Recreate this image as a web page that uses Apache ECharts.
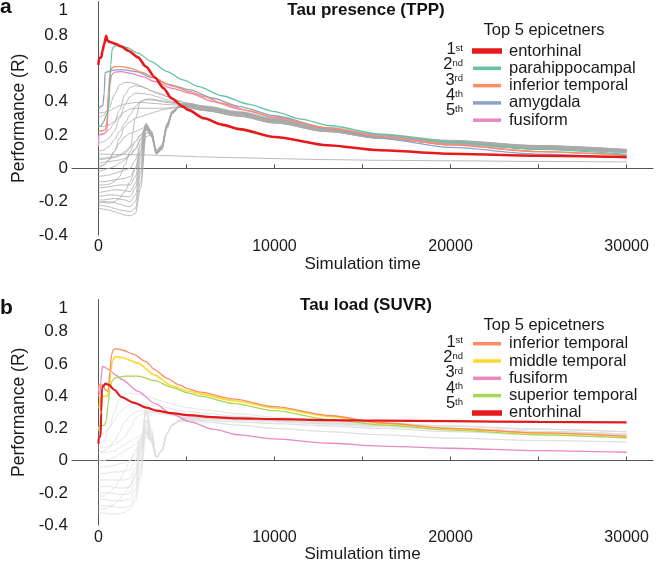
<!DOCTYPE html>
<html>
<head>
<meta charset="utf-8">
<script src="https://cdn.jsdelivr.net/npm/echarts@6/dist/echarts.min.js"></script>
<style>html,body{margin:0;padding:0;background:#fff;}#c{width:656px;height:564px;}</style>
</head>
<body>
<div id="c"></div>
<script>
// ---------- shared ----------
const xTickLabels = [0, 10000, 20000, 30000];
const xTicks = [0, 5000, 10000, 15000, 20000, 25000, 30000];
const yTicks = [-0.4, -0.2, 0, 0.2, 0.4, 0.6, 0.8, 1];
const TG = [0,300,600,900,1200,1500,1800,2100,2400,2700,3000,3300,3600,3900,4200,4600,5000,6000,8000,10000,13000,16000,20000,25000,30000];

// ---------- panel a : Tau presence (TPP) ----------
const namesA = ['entorhinal', 'parahippocampal', 'inferior temporal', 'amygdala', 'fusiform'];
const entorhinalA = [[0,0.62],[30,0.66],[170,0.665],[220,0.70],[320,0.74],[440,0.795],[520,0.765],[650,0.757],[1000,0.745],[1300,0.73],[1700,0.705],[2250,0.665],[2700,0.61],[3200,0.546],[3700,0.48],[4150,0.42],[4800,0.37],[5100,0.35],[6000,0.30],[7000,0.262],[8000,0.235],[10000,0.188],[13000,0.138],[16000,0.108],[20000,0.087],[25000,0.075],[30000,0.068]];
const parahippocampalA = [[0,0.25],[150,0.255],[300,0.28],[450,0.32],[550,0.34],[620,0.45],[700,0.62],[780,0.715],[900,0.733],[1200,0.735],[1600,0.725],[2250,0.69],[3000,0.64],[3900,0.58],[4800,0.53],[5700,0.49],[7000,0.435],[8500,0.385],[10000,0.34],[11500,0.295],[13165,0.255],[16000,0.205],[20000,0.157],[25000,0.113],[30000,0.083]];
const inferiorTemporalA = [[0,0.22],[200,0.225],[400,0.23],[480,0.28],[560,0.45],[650,0.56],[750,0.6],[900,0.61],[1300,0.61],[1800,0.6],[2500,0.575],[3200,0.54],[4150,0.495],[5200,0.46],[6000,0.43],[7000,0.39],[8500,0.345],[10000,0.305],[13165,0.24],[16000,0.19],[20000,0.14],[25000,0.1],[30000,0.078]];
const amygdalaA = [[0,0.36],[60,0.36],[100,0.37],[250,0.375],[330,0.45],[380,0.575],[550,0.578],[650,0.585],[1000,0.59],[1500,0.59],[2200,0.578],[3000,0.545],[3900,0.505],[5200,0.47],[6500,0.42],[8000,0.37],[10000,0.315],[13165,0.235],[16000,0.18],[20000,0.125],[25000,0.085],[30000,0.062]];
const fusiformA = [[0,0.13],[20,0.2],[300,0.205],[480,0.22],[560,0.35],[650,0.5],[750,0.56],[900,0.575],[1300,0.58],[1800,0.57],[2500,0.55],[3200,0.52],[4150,0.48],[5200,0.45],[6500,0.4],[8000,0.355],[10000,0.305],[13165,0.238],[16000,0.19],[20000,0.14],[25000,0.1],[30000,0.078]];

const greyA01 = [-0.24,-0.245,-0.25,-0.26,-0.27,-0.28,-0.285,-0.27,-0.12,0.19,0.2,0.085,0.11,0.24,0.33,0.365,0.378,0.36,0.325,0.285,0.23,0.19,0.155,0.125,0.103];
const greyA02 = [-0.22,-0.225,-0.23,-0.24,-0.25,-0.255,-0.26,-0.24,-0.08,0.21,0.21,0.09,0.12,0.25,0.335,0.37,0.376,0.358,0.322,0.282,0.228,0.188,0.153,0.123,0.1];
const greyA03 = [-0.205,-0.2,-0.2,-0.205,-0.215,-0.225,-0.23,-0.2,-0.03,0.23,0.2,0.1,0.13,0.26,0.34,0.372,0.37,0.35,0.315,0.275,0.222,0.182,0.147,0.118,0.096];
const greyA04 = [-0.19,-0.19,-0.185,-0.18,-0.185,-0.19,-0.2,-0.16,0.0,0.24,0.21,0.095,0.125,0.255,0.335,0.37,0.378,0.36,0.325,0.285,0.23,0.19,0.155,0.125,0.103];
const greyA05 = [-0.17,-0.165,-0.16,-0.16,-0.165,-0.17,-0.17,-0.12,0.04,0.25,0.22,0.1,0.13,0.26,0.34,0.374,0.385,0.368,0.332,0.292,0.237,0.197,0.162,0.132,0.109];
const greyA06 = [-0.15,-0.14,-0.135,-0.13,-0.13,-0.135,-0.14,-0.09,0.07,0.26,0.215,0.09,0.12,0.25,0.335,0.37,0.377,0.359,0.324,0.284,0.229,0.189,0.154,0.124,0.102];
const greyA07 = [-0.12,-0.115,-0.11,-0.105,-0.1,-0.1,-0.1,-0.05,0.1,0.265,0.22,0.105,0.135,0.265,0.34,0.373,0.372,0.352,0.317,0.277,0.224,0.184,0.149,0.12,0.098];
const greyA08 = [-0.08,-0.08,-0.075,-0.07,-0.065,-0.06,-0.05,0.0,0.13,0.27,0.225,0.11,0.14,0.27,0.345,0.375,0.379,0.361,0.326,0.286,0.231,0.191,0.156,0.126,0.104];
const greyA09 = [-0.05,-0.045,-0.04,-0.03,-0.02,-0.01,0.0,0.05,0.15,0.26,0.21,0.1,0.13,0.26,0.34,0.372,0.386,0.367,0.331,0.291,0.236,0.196,0.161,0.131,0.108];
const greyA10 = [-0.02,-0.01,0.0,0.01,0.03,0.05,0.08,0.12,0.18,0.255,0.205,0.095,0.125,0.255,0.335,0.37,0.368,0.349,0.314,0.274,0.221,0.181,0.146,0.117,0.095];
const greyA11 = [0.03,0.035,0.04,0.045,0.05,0.06,0.08,0.11,0.17,0.25,0.2,0.09,0.12,0.25,0.33,0.368,0.376,0.358,0.323,0.283,0.229,0.189,0.154,0.124,0.102];
const greyA12 = [0.06,0.06,0.065,0.07,0.08,0.1,0.13,0.16,0.2,0.245,0.195,0.085,0.115,0.245,0.33,0.366,0.388,0.37,0.335,0.295,0.24,0.2,0.165,0.135,0.112];
const greyA13 = [0.01,0.02,0.05,0.1,0.15,0.19,0.21,0.22,0.235,0.25,0.2,0.09,0.12,0.25,0.33,0.368,0.366,0.347,0.312,0.272,0.22,0.18,0.145,0.116,0.094];
const greyA14 = [-0.1,-0.1,-0.095,-0.08,-0.05,0.02,0.1,0.16,0.2,0.24,0.19,0.085,0.115,0.245,0.33,0.366,0.375,0.357,0.322,0.282,0.228,0.188,0.153,0.123,0.101];
const greyA15 = [-0.2,-0.205,-0.21,-0.2,-0.18,-0.14,-0.08,0.0,0.1,0.235,0.2,0.09,0.12,0.25,0.335,0.369,0.377,0.359,0.324,0.284,0.23,0.19,0.155,0.125,0.103];
const greyA16 = [0.30,0.32,0.36,0.44,0.5,0.515,0.515,0.505,0.495,0.48,0.465,0.45,0.44,0.43,0.415,0.4,0.392,0.375,0.34,0.3,0.245,0.205,0.168,0.137,0.113];
const greyA17 = [0.2,0.21,0.23,0.27,0.35,0.44,0.485,0.495,0.49,0.48,0.465,0.455,0.445,0.43,0.42,0.405,0.39,0.37,0.335,0.295,0.24,0.2,0.165,0.135,0.112];
const greyA18 = [0.33,0.335,0.345,0.36,0.375,0.385,0.39,0.395,0.395,0.393,0.39,0.388,0.385,0.382,0.38,0.38,0.387,0.369,0.334,0.294,0.239,0.199,0.164,0.134,0.111];
const greyA19 = [0.1,0.11,0.13,0.17,0.22,0.27,0.32,0.37,0.4,0.41,0.41,0.405,0.4,0.395,0.39,0.385,0.38,0.362,0.327,0.287,0.232,0.192,0.157,0.127,0.105];
const greyA20 = [0.05,0.055,0.06,0.065,0.075,0.09,0.12,0.3,0.4,0.415,0.415,0.41,0.405,0.4,0.395,0.39,0.384,0.366,0.331,0.291,0.236,0.196,0.161,0.131,0.108];
const greyA21 = [0.25,0.25,0.26,0.28,0.31,0.34,0.355,0.36,0.36,0.36,0.36,0.36,0.36,0.362,0.365,0.37,0.365,0.348,0.313,0.273,0.22,0.18,0.145,0.117,0.095];
const greyA22 = [0.0,0.02,0.05,0.1,0.18,0.25,0.28,0.3,0.31,0.32,0.33,0.34,0.35,0.355,0.36,0.365,0.364,0.346,0.311,0.271,0.219,0.179,0.144,0.116,0.094];
const greyA23 = [0.15,0.16,0.18,0.22,0.3,0.38,0.43,0.45,0.45,0.445,0.44,0.43,0.42,0.41,0.4,0.39,0.381,0.363,0.328,0.288,0.233,0.193,0.158,0.128,0.106];
const greyA24 = [0.085,0.085,0.084,0.083,0.083,0.082,0.082,0.081,0.08,0.08,0.079,0.078,0.077,0.076,0.075,0.073,0.072,0.068,0.063,0.058,0.052,0.048,0.045,0.041,0.038];
const greysA = [greyA01,greyA02,greyA03,greyA04,greyA05,greyA06,greyA07,greyA08,greyA09,greyA10,greyA11,greyA12,greyA13,greyA14,greyA15,greyA16,greyA17,greyA18,greyA19,greyA20,greyA21,greyA22,greyA23,greyA24];

// ---------- panel b : Tau load (SUVR) ----------
const namesB = ['inferior temporal', 'middle temporal', 'fusiform', 'superior temporal', 'entorhinal'];
const inferiorTemporalB = [[0,0.42],[20,0.47],[250,0.47],[400,0.44],[550,0.43],[650,0.55],[750,0.66],[850,0.69],[1000,0.695],[1400,0.685],[2000,0.66],[2700,0.615],[3200,0.565],[3900,0.51],[4600,0.47],[5100,0.445],[5800,0.425],[7650,0.383],[10000,0.335],[13165,0.28],[16000,0.235],[20000,0.2],[25000,0.172],[30000,0.152]];
const middleTemporalB = [[0,0.325],[50,0.33],[100,0.395],[300,0.4],[500,0.4],[600,0.43],[700,0.55],[800,0.62],[950,0.645],[1300,0.64],[2250,0.605],[3200,0.531],[4150,0.465],[5100,0.432],[5800,0.413],[7650,0.372],[10000,0.327],[13165,0.275],[16000,0.232],[20000,0.197],[25000,0.17],[30000,0.15]];
const fusiformB = [[0,0.4],[80,0.42],[150,0.5],[220,0.585],[300,0.582],[600,0.565],[1000,0.53],[1310,0.505],[2256,0.43],[3205,0.355],[4148,0.29],[5222,0.24],[6500,0.195],[8000,0.16],[10000,0.135],[13165,0.108],[16000,0.09],[20000,0.077],[25000,0.062],[30000,0.052]];
const superiorTemporalB = [[0,0.185],[30,0.215],[350,0.22],[450,0.25],[550,0.35],[650,0.45],[800,0.5],[1000,0.515],[1500,0.525],[2256,0.525],[3205,0.497],[4150,0.455],[5100,0.42],[5800,0.4],[7650,0.355],[10000,0.31],[13165,0.255],[16000,0.222],[20000,0.19],[25000,0.16],[30000,0.142]];
const entorhinalB = [[0,0.105],[20,0.145],[120,0.15],[160,0.3],[200,0.45],[250,0.46],[400,0.478],[600,0.47],[900,0.44],[1310,0.395],[2000,0.36],[2700,0.33],[3300,0.31],[4150,0.295],[5100,0.282],[6500,0.27],[8000,0.262],[10000,0.258],[13165,0.252],[16000,0.248],[20000,0.245],[25000,0.24],[30000,0.237]];

const greyB01 = [-0.32,-0.325,-0.33,-0.33,-0.33,-0.32,-0.3,-0.25,-0.1,0.15,0.12,0.02,0.06,0.17,0.22,0.245,0.26,0.265,0.258,0.248,0.232,0.218,0.2,0.18,0.165];
const greyB02 = [-0.28,-0.28,-0.28,-0.285,-0.29,-0.29,-0.28,-0.22,-0.05,0.2,0.14,0.02,0.06,0.17,0.225,0.25,0.25,0.25,0.24,0.23,0.215,0.2,0.18,0.16,0.14];
const greyB03 = [-0.24,-0.24,-0.245,-0.25,-0.25,-0.245,-0.24,-0.18,0.0,0.25,0.16,0.025,0.065,0.175,0.225,0.25,0.27,0.275,0.27,0.26,0.245,0.232,0.215,0.195,0.18];
const greyB04 = [-0.2,-0.2,-0.2,-0.205,-0.21,-0.21,-0.2,-0.14,0.05,0.3,0.18,0.02,0.06,0.17,0.22,0.248,0.262,0.266,0.259,0.249,0.233,0.219,0.201,0.181,0.166];
const greyB05 = [-0.16,-0.16,-0.16,-0.165,-0.17,-0.17,-0.165,-0.1,0.08,0.33,0.2,0.025,0.065,0.175,0.225,0.25,0.245,0.24,0.22,0.2,0.18,0.16,0.14,0.125,0.115];
const greyB06 = [-0.12,-0.12,-0.12,-0.12,-0.12,-0.12,-0.11,-0.05,0.1,0.3,0.17,0.02,0.06,0.17,0.22,0.248,0.268,0.273,0.268,0.258,0.243,0.23,0.213,0.193,0.178];
const greyB07 = [-0.08,-0.08,-0.075,-0.07,-0.07,-0.065,-0.06,0.0,0.12,0.25,0.15,0.02,0.06,0.17,0.22,0.246,0.258,0.262,0.255,0.245,0.229,0.215,0.197,0.177,0.162];
const greyB08 = [-0.04,-0.04,-0.035,-0.03,-0.02,-0.01,0.0,0.04,0.12,0.2,0.13,0.02,0.06,0.17,0.22,0.245,0.25,0.25,0.24,0.23,0.215,0.2,0.18,0.16,0.14];
const greyB09 = [0.0,0.0,0.01,0.02,0.04,0.06,0.08,0.1,0.14,0.18,0.12,0.02,0.06,0.17,0.22,0.245,0.26,0.265,0.258,0.248,0.232,0.218,0.2,0.18,0.165];
const greyB10 = [0.05,0.05,0.055,0.06,0.08,0.1,0.12,0.14,0.16,0.17,0.12,0.02,0.06,0.17,0.22,0.245,0.245,0.24,0.22,0.2,0.18,0.16,0.14,0.125,0.115];
const greyB11 = [-0.22,-0.22,-0.2,-0.17,-0.12,-0.06,0.0,0.06,0.14,0.22,0.14,0.02,0.06,0.17,0.22,0.247,0.27,0.275,0.27,0.26,0.245,0.232,0.215,0.195,0.18];
const greyB12 = [0.1,0.12,0.2,0.3,0.38,0.41,0.42,0.415,0.41,0.4,0.39,0.38,0.37,0.36,0.35,0.34,0.33,0.315,0.29,0.27,0.245,0.225,0.2,0.178,0.16];
const greyB13 = [0.15,0.17,0.2,0.25,0.3,0.33,0.35,0.355,0.355,0.35,0.345,0.34,0.335,0.33,0.32,0.31,0.305,0.295,0.275,0.26,0.24,0.222,0.2,0.18,0.165];
const greyB14 = [0.05,0.06,0.08,0.12,0.18,0.24,0.28,0.3,0.31,0.31,0.305,0.3,0.295,0.29,0.285,0.28,0.27,0.275,0.27,0.26,0.245,0.232,0.215,0.195,0.18];
const greyB15 = [0.08,0.08,0.09,0.1,0.12,0.15,0.2,0.26,0.29,0.3,0.3,0.295,0.29,0.285,0.28,0.275,0.262,0.266,0.259,0.249,0.233,0.219,0.201,0.181,0.166];
const greyB16 = [-0.3,-0.3,-0.29,-0.27,-0.24,-0.2,-0.15,-0.08,0.05,0.18,0.13,0.02,0.06,0.17,0.22,0.245,0.255,0.258,0.25,0.24,0.225,0.21,0.19,0.17,0.155];
const greysB = [greyB01,greyB02,greyB03,greyB04,greyB05,greyB06,greyB07,greyB08,greyB09,greyB10,greyB11,greyB12,greyB13,greyB14,greyB15,greyB16];

// ---------- style ----------
const FONT = 'Liberation Sans, Arial, Helvetica, sans-serif';
const TXT = '#1a1a1a';
const AX = '#555';
const COL = {
  'entorhinal': '#e41a1c', 'parahippocampal': '#66c2a5', 'inferior temporal': '#fc8d62',
  'amygdala': '#8da0cb', 'fusiform': '#e78ac3', 'middle temporal': '#ffd92f', 'superior temporal': '#a6d854'
};
const ranks = ['1', '2', '3', '4', '5'];
const rankSup = ['st', 'nd', 'rd', 'th', 'th'];

const chart = echarts.init(document.getElementById('c'), null, {renderer: 'canvas'});

function xAxis(gi) {
  return {
    type: 'value', gridIndex: gi, min: -1500, max: 31500,
    name: 'Simulation time', nameLocation: 'middle', nameGap: 19,
    nameTextStyle: {fontSize: 17, color: TXT, fontFamily: FONT},
    axisLine: {lineStyle: {color: AX, width: 1}},
    axisTick: {show: true, inside: true, length: 4, customValues: xTicks, lineStyle: {color: AX}},
    axisLabel: {fontSize: 16, color: TXT, fontFamily: FONT, margin: 4, customValues: xTickLabels,
      formatter: function (v) { return String(v); }},
    splitLine: {show: false}
  };
}
function yAxis(gi) {
  return {
    type: 'value', gridIndex: gi, min: -0.4, max: 1, interval: 0.2,
    name: 'Performance (R)', nameLocation: 'middle', nameGap: 32,
    nameTextStyle: {fontSize: 17.5, color: TXT, fontFamily: FONT},
    axisLine: {show: true, lineStyle: {color: AX, width: 1}},
    axisTick: {show: false},
    axisLabel: {
      fontSize: 17, color: TXT, fontFamily: FONT, margin: 4,
      customValues: yTicks,
      formatter: function (v) {
        const r = Math.round(v * 10) / 10;
        return r === 1 ? '{top|1}' : String(r);
      },
      rich: {top: {fontSize: 17, color: TXT, fontFamily: FONT, padding: [18, 0, 0, 0]}}
    },
    splitLine: {show: false}
  };
}

const series = [];
greysA.forEach(function (arr) {
  series.push({type: 'line', xAxisIndex: 0, yAxisIndex: 0, silent: true, symbol: 'none', smooth: 0.3, smoothMonotone: 'x',
    lineStyle: {color: '#a9a9a9', width: 0.8}, data: TG.map(function (t, i) { return [t, arr[i]]; })});
});
greysB.forEach(function (arr) {
  series.push({type: 'line', xAxisIndex: 1, yAxisIndex: 1, silent: true, symbol: 'none', smooth: 0.3, smoothMonotone: 'x',
    lineStyle: {color: '#dedede', width: 0.8}, data: TG.map(function (t, i) { return [t, arr[i]]; })});
});
const colA = [[namesA[4], fusiformA, 1.3], [namesA[3], amygdalaA, 1.3], [namesA[2], inferiorTemporalA, 1.3], [namesA[1], parahippocampalA, 1.3], [namesA[0], entorhinalA, 2.6]];
colA.forEach(function (c) {
  series.push({type: 'line', name: c[0], xAxisIndex: 0, yAxisIndex: 0, symbol: 'none', smooth: 0.25, smoothMonotone: 'x',
    lineStyle: {color: COL[c[0]], width: c[2]}, itemStyle: {color: COL[c[0]]}, data: c[1]});
});
const colB = [[namesB[2], fusiformB, 1.3], [namesB[3], superiorTemporalB, 1.3], [namesB[1], middleTemporalB, 1.6], [namesB[0], inferiorTemporalB, 1.3], [namesB[4], entorhinalB, 2.2]];
colB.forEach(function (c) {
  series.push({type: 'line', name: c[0], xAxisIndex: 1, yAxisIndex: 1, symbol: 'none', smooth: 0.25, smoothMonotone: 'x',
    lineStyle: {color: COL[c[0]], width: c[2]}, itemStyle: {color: COL[c[0]]}, data: c[1]});
});

function legend(names, top, thick) {
  return {
    orient: 'vertical', left: 472, top: top, padding: 0, itemGap: 0.3,
    itemWidth: 28, itemHeight: 3.5, selectedMode: false, icon: 'rect',
    textStyle: {fontSize: 16.5, color: TXT, fontFamily: FONT, lineHeight: 15, padding: [0, 0, 0, 3]},
    data: names.map(function (n) {
      return n === thick
        ? {name: n, itemStyle: {color: COL[n], borderColor: COL[n], borderWidth: 2}}
        : {name: n, itemStyle: {color: COL[n], borderWidth: 0}};
    })
  };
}

const graphics = [
  {type: 'text', style: {text: 'a', x: 0, y: 7.5, font: 'bold 21px ' + FONT, fill: '#111', textVerticalAlign: 'middle', verticalAlign: 'middle'}},
  {type: 'text', style: {text: 'b', x: 0, y: 308.5, font: 'bold 21px ' + FONT, fill: '#111', textVerticalAlign: 'middle', verticalAlign: 'middle'}},
  {type: 'text', style: {text: 'Tau presence (TPP)', x: 366, y: 10, font: 'bold 17px ' + FONT, fill: '#111', textAlign: 'center', align: 'center', textVerticalAlign: 'middle', verticalAlign: 'middle'}},
  {type: 'text', style: {text: 'Tau load (SUVR)', x: 366, y: 305, font: 'bold 17px ' + FONT, fill: '#111', textAlign: 'center', align: 'center', textVerticalAlign: 'middle', verticalAlign: 'middle'}},
  {type: 'text', style: {text: 'Top 5 epicetners', x: 544, y: 30, font: '16.5px ' + FONT, fill: TXT, textAlign: 'center', align: 'center', textVerticalAlign: 'middle', verticalAlign: 'middle'}},
  {type: 'text', style: {text: 'Top 5 epicetners', x: 544, y: 325, font: '16.5px ' + FONT, fill: TXT, textAlign: 'center', align: 'center', textVerticalAlign: 'middle', verticalAlign: 'middle'}}
];
[50, 342.7].forEach(function (y0) {
  ranks.forEach(function (r, i) {
    graphics.push({type: 'text', style: {
      text: '{n|' + r + '}{s|' + rankSup[i] + '}', x: 463, y: y0 + i * 15.3,
      textAlign: 'right', align: 'right', textVerticalAlign: 'middle', verticalAlign: 'middle',
      rich: {n: {fontSize: 16.5, fontFamily: FONT, fill: TXT, color: TXT, lineHeight: 16, verticalAlign: 'bottom'},
             s: {fontSize: 9.5, fontFamily: FONT, fill: TXT, color: TXT, lineHeight: 16, verticalAlign: 'top', padding: [1, 0, 0, 0]}}
    }});
  });
});

chart.setOption({
  animation: false,
  backgroundColor: '#fff',
  textStyle: {fontFamily: FONT},
  grid: [
    {left: 72, right: 3, top: 1.5, height: 233.5, containLabel: false},
    {left: 72, right: 3, top: 299.5, height: 233.5, containLabel: false}
  ],
  xAxis: [xAxis(0), xAxis(1)],
  yAxis: [yAxis(0), yAxis(1)],
  legend: [legend(namesA, 42.5, 'entorhinal'), legend(namesB, 335.2, 'entorhinal')],
  graphic: graphics,
  series: series
});
</script>
</body>
</html>
